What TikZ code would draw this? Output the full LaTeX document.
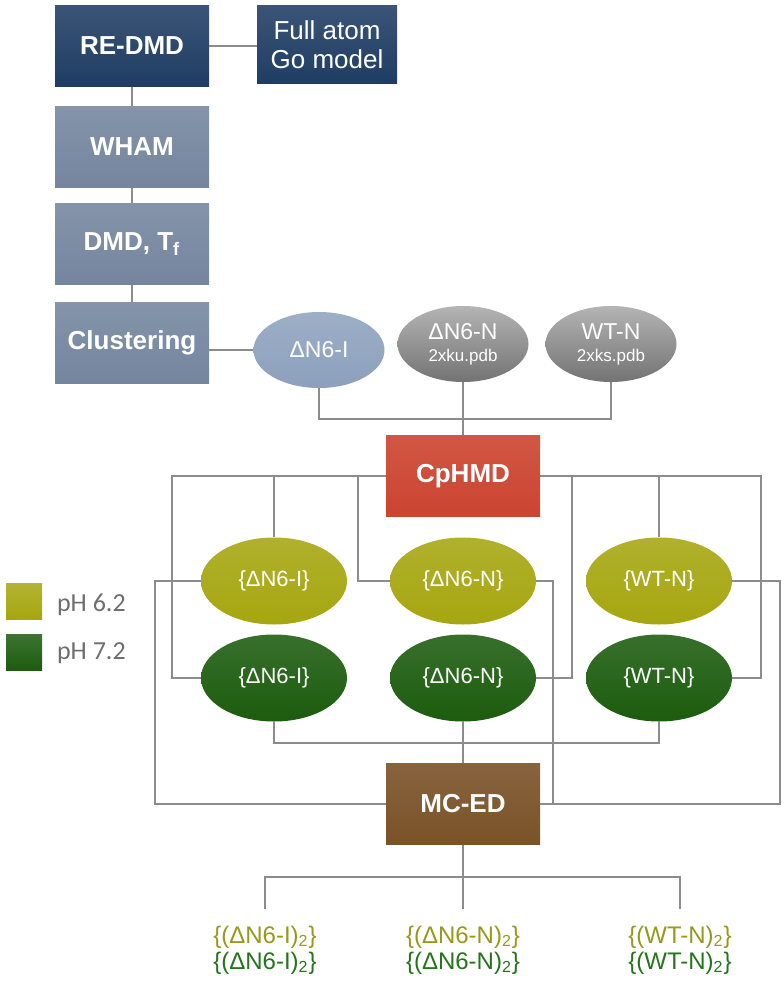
\documentclass[tikz,border=0pt]{standalone}
\usepackage{fontspec}
\setmainfont{Liberation Sans}
\newfontfamily\legendfont{Carlito}
\usetikzlibrary{shapes.geometric}
\usetikzlibrary{shadings}

\definecolor{navy}{RGB}{31,61,99}
\definecolor{slate}{RGB}{116,133,158}
\definecolor{paleblue}{RGB}{140,160,188}
\definecolor{gtop}{RGB}{180,180,180}
\definecolor{gbot}{RGB}{115,115,115}
\definecolor{cpred}{RGB}{203,68,48}
\definecolor{olive}{RGB}{166,166,16}
\definecolor{leaf}{RGB}{28,92,14}
\definecolor{mcbrown}{RGB}{122,82,40}
\definecolor{wiregray}{RGB}{140,140,140}
\definecolor{oltext}{RGB}{152,152,28}
\definecolor{grtext}{RGB}{36,116,26}
\definecolor{legtxt}{RGB}{110,110,110}

\begin{document}
\begin{tikzpicture}[x=0.5pt,y=-0.5pt,
    wire/.style={draw=wiregray,line width=1.1pt},
    box/.style={rectangle,inner sep=0pt,minimum width=77pt,minimum height=40.5pt,
        text=white,font=\bfseries\fontsize{13}{15}\selectfont},
    navybox/.style={box,top color=navy!88!white,bottom color=navy},
    slatebox/.style={box,top color=slate!88!white,bottom color=slate},
    pdbell/.style={ellipse,inner sep=0pt,minimum width=65.5pt,minimum height=38pt,
        text=white,align=center,font=\fontsize{11.5}{12}\selectfont},
    phell/.style={ellipse,inner sep=0pt,minimum width=73pt,minimum height=43.5pt,
        text=white,font=\fontsize{11}{13}\selectfont},
    legsq/.style={rectangle,inner sep=0pt,minimum size=18pt},
    legtext/.style={anchor=west,text=legtxt,font=\legendfont\fontsize{13}{14}\selectfont},
    outtext/.style={align=center,inner sep=0pt,font=\fontsize{12}{13}\selectfont}]

    \useasboundingbox (0,0) rectangle (783,984);

    % 左列
    \node[navybox] (redmd) at (132,46) {RE-DMD};
    \node[navybox,minimum width=70pt,minimum height=39pt,align=center,
        font=\fontsize{13}{14.5}\selectfont] (goatom) at (327,45) {Full atom\\Go model};
    \node[slatebox] (wham) at (132,147) {WHAM};
    \node[slatebox] (dmdtf) at (132,244) {DMD, T\textsubscript{f}};
    \node[slatebox] (clus) at (132,343) {Clustering};

    % 三个结构
    \node[pdbell,top color=paleblue!85!white,bottom color=paleblue] (e0) at (319,350) {ΔN6-I};
    \node[pdbell,top color=gtop,bottom color=gbot] (e1) at (463,344)
        {ΔN6-N\\[-1pt]{\fontsize{8.5}{10}\selectfont 2xku.pdb}};
    \node[pdbell,top color=gtop,bottom color=gbot] (e2) at (611,344)
        {WT-N\\[-1pt]{\fontsize{8.5}{10}\selectfont 2xks.pdb}};

    \node[box,top color=cpred!90!white,bottom color=cpred] (cphmd) at (463,476) {CpHMD};

    % pH 6.2 / 7.2
    \node[phell,top color=olive!88!white,bottom color=olive] (y0) at (274,581) {\{ΔN6-I\}};
    \node[phell,top color=olive!88!white,bottom color=olive] (y1) at (463,581) {\{ΔN6-N\}};
    \node[phell,top color=olive!88!white,bottom color=olive] (y2) at (659,581) {\{WT-N\}};
    \node[phell,top color=leaf!88!white,bottom color=leaf] (g0) at (274,678) {\{ΔN6-I\}};
    \node[phell,top color=leaf!88!white,bottom color=leaf] (g1) at (463,678) {\{ΔN6-N\}};
    \node[phell,top color=leaf!88!white,bottom color=leaf] (g2) at (659,678) {\{WT-N\}};

    \node[box,top color=mcbrown!90!white,bottom color=mcbrown] (mced) at (463,804) {MC-ED};

    % 图例
    \node[legsq,top color=olive!85!white,bottom color=olive] (sq62) at (24,601) {};
    \node[legsq,top color=leaf!85!white,bottom color=leaf] (sq72) at (24,652) {};
    \node[legtext] (t62) at (50,605) {pH 6.2};
    \node[legtext] (t72) at (50,653) {pH 7.2};

    % 结果
    \node[outtext] (o0) at (265,950)
        {\textcolor{oltext}{\{(ΔN6-I)\textsubscript{2}\}}\\\textcolor{grtext}{\{(ΔN6-I)\textsubscript{2}\}}};
    \node[outtext] (o1) at (463,950)
        {\textcolor{oltext}{\{(ΔN6-N)\textsubscript{2}\}}\\\textcolor{grtext}{\{(ΔN6-N)\textsubscript{2}\}}};
    \node[outtext] (o2) at (680,950)
        {\textcolor{oltext}{\{(WT-N)\textsubscript{2}\}}\\\textcolor{grtext}{\{(WT-N)\textsubscript{2}\}}};

    % 连线
    \coordinate (ebus) at (0,419);
    \coordinate (gbus) at (0,743);
    \coordinate (obus) at (0,877);
    \coordinate (cA) at (172,0);
    \coordinate (cB) at (358,0);
    \coordinate (cC) at (572,0);
    \coordinate (cD) at (761,0);
    \coordinate (cE) at (155,0);
    \coordinate (cF) at (553,0);
    \coordinate (cG) at (780,0);

    \draw[wire] (redmd.east) -- (redmd.east -| goatom.west);
    \draw[wire] (redmd) -- (wham);
    \draw[wire] (wham) -- (dmdtf);
    \draw[wire] (dmdtf) -- (clus);
    \draw[wire] (clus.east |- e0.west) -- (e0.west);

    \draw[wire] (e0.south) |- (ebus -| e2.south) -- (e2.south);
    \draw[wire] (e1.south) -- (cphmd.north);

    \draw[wire] (cphmd.west) -| (cA |- g0.west) -- (g0.west);
    \draw[wire] (cphmd.west) -| (y0.north);
    \draw[wire] (cphmd.west) -| (cB |- y1.west) -- (y1.west);
    \draw[wire] (cphmd.east) -| (cC |- g1.east) -- (g1.east);
    \draw[wire] (cphmd.east) -| (y2.north);
    \draw[wire] (cphmd.east) -| (cD |- g2.east) -- (g2.east);

    \draw[wire] (y0.west) -| (cE |- mced.west) -- (mced.west);
    \draw[wire] (y1.east) -| (cF |- mced.east) -- (mced.east);
    \draw[wire] (y2.east) -| (cG |- mced.east) -- (mced.east);
    \draw[wire] (g0.south) |- (gbus -| g2.south) -- (g2.south);
    \draw[wire] (g1.south) -- (mced.north);

    \draw[wire] (mced.south) -- (mced.south |- obus);
    \draw[wire] ([yshift=8pt]o0.north) |- (obus -| o2.north) -- ([yshift=8pt]o2.north);
    \draw[wire] (obus -| o1.north) -- ([yshift=8pt]o1.north);
\end{tikzpicture}
\end{document}
